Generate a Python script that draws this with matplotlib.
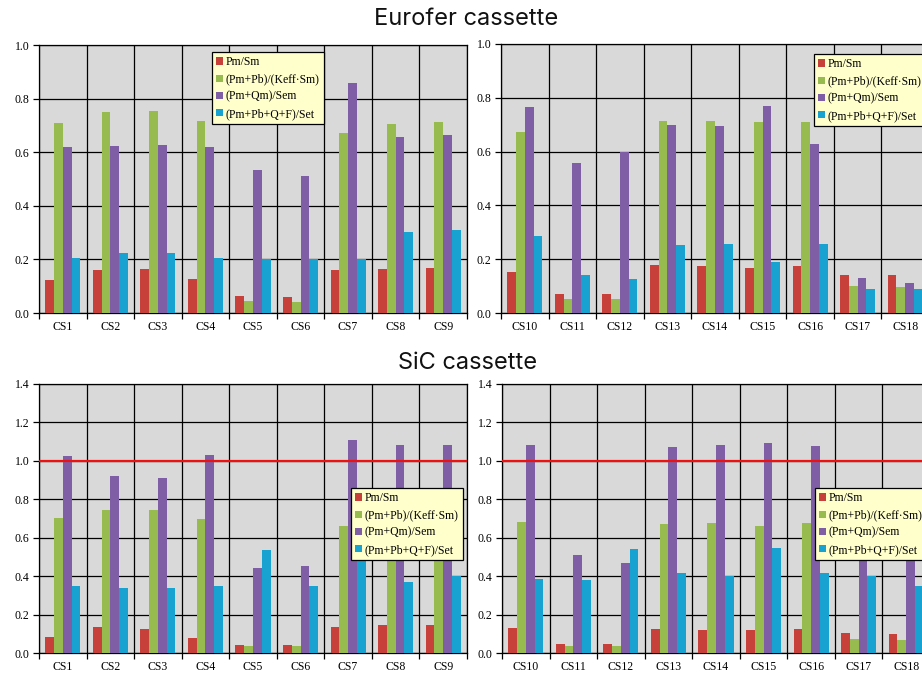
import matplotlib
matplotlib.use("Agg")
import matplotlib.pyplot as plt
import numpy as np

# ---------------- data ----------------
series_names = ["Pm/Sm", "(Pm+Pb)/(Keff·Sm)", "(Pm+Qm)/Sem", "(Pm+Pb+Q+F)/Set"]
cats_left = ["CS1", "CS2", "CS3", "CS4", "CS5", "CS6", "CS7", "CS8", "CS9"]
cats_right = ["CS10", "CS11", "CS12", "CS13", "CS14", "CS15", "CS16", "CS17", "CS18"]

# Eurofer cassette, CS1-CS9
eu_pm_sm_l = [0.125, 0.160, 0.163, 0.128, 0.062, 0.060, 0.162, 0.165, 0.168]
eu_pmpb_l = [0.710, 0.750, 0.752, 0.715, 0.045, 0.042, 0.670, 0.707, 0.713]
eu_pmqm_l = [0.620, 0.625, 0.628, 0.620, 0.535, 0.513, 0.860, 0.655, 0.663]
eu_set_l = [0.205, 0.223, 0.225, 0.207, 0.202, 0.203, 0.200, 0.302, 0.308]

# Eurofer cassette, CS10-CS18
eu_pm_sm_r = [0.152, 0.072, 0.070, 0.180, 0.175, 0.168, 0.173, 0.143, 0.140]
eu_pmpb_r = [0.672, 0.053, 0.053, 0.713, 0.714, 0.710, 0.710, 0.100, 0.095]
eu_pmqm_r = [0.765, 0.557, 0.600, 0.698, 0.695, 0.770, 0.628, 0.130, 0.112]
eu_set_r = [0.287, 0.143, 0.125, 0.253, 0.255, 0.190, 0.255, 0.090, 0.088]

# SiC cassette, CS1-CS9
sic_pm_sm_l = [0.085, 0.133, 0.127, 0.080, 0.043, 0.043, 0.133, 0.145, 0.147]
sic_pmpb_l = [0.703, 0.745, 0.742, 0.700, 0.035, 0.035, 0.663, 0.700, 0.705]
sic_pmqm_l = [1.025, 0.920, 0.910, 1.033, 0.440, 0.455, 1.107, 1.085, 1.085]
sic_set_l = [0.350, 0.340, 0.340, 0.350, 0.535, 0.350, 0.520, 0.372, 0.400]

# SiC cassette, CS10-CS18
sic_pm_sm_r = [0.130, 0.046, 0.046, 0.125, 0.120, 0.118, 0.123, 0.103, 0.100]
sic_pmpb_r = [0.683, 0.038, 0.036, 0.672, 0.675, 0.663, 0.677, 0.072, 0.068]
sic_pmqm_r = [1.082, 0.508, 0.468, 1.070, 1.082, 1.095, 1.075, 0.520, 0.500]
sic_set_r = [0.387, 0.378, 0.540, 0.415, 0.400, 0.545, 0.418, 0.403, 0.350]

titles = ["Eurofer cassette", "SiC cassette"]

# ---------------- style ----------------
colors = ["#c8403a", "#98bb50", "#7f5ea6", "#18a2d2"]
bg = "#d9d9d9"
serif = ["Liberation Serif", "DejaVu Serif"]

W, H = 922, 673
fig = plt.figure(figsize=(W / 100, H / 100), dpi=100)
fig.patch.set_facecolor("white")


def px_axes(x0, y_top, x1, y_bot):
    return fig.add_axes([x0 / W, 1 - y_bot / H, (x1 - x0) / W, (y_bot - y_top) / H])


def draw_panel(ax, cats, series, ymax, refline, legend_pos):
    n = len(cats)
    x = np.arange(n)
    bw = 0.185
    ax.set_facecolor(bg)
    for k, (vals, c, name) in enumerate(zip(series, colors, series_names)):
        ax.bar(x + (k - 1.5) * bw, vals, width=bw, color=c, label=name, zorder=3, linewidth=0)
    ax.set_xlim(-0.5, n - 0.5)
    ax.set_ylim(0, ymax)
    yt = np.round(np.arange(0, ymax + 1e-9, 0.2), 1)
    ax.set_yticks(yt)
    ax.set_yticklabels([f"{v:.1f}" for v in yt], fontfamily=serif, fontsize=8.5)
    # horizontal grid
    for v in yt:
        ax.axhline(v, color="black", lw=0.9, zorder=1)
    # vertical separators
    for b in np.arange(-0.5, n, 1.0):
        ax.axvline(b, color="black", lw=0.9, zorder=1)
    ax.set_xticks(np.arange(-0.5, n, 1.0))
    ax.set_xticklabels([])
    ax.set_xticks(x, minor=True)
    ax.set_xticklabels(cats, minor=True, fontfamily=serif, fontsize=8.5)
    ax.tick_params(axis="x", which="major", direction="out", length=4, width=0.9)
    ax.tick_params(axis="x", which="minor", length=0, pad=6)
    ax.tick_params(axis="y", direction="out", length=4, width=0.9, pad=3)
    for s in ax.spines.values():
        s.set_color("black")
        s.set_linewidth(0.9)
    if refline is not None:
        ax.axhline(refline, color="#ee1111", lw=1.6, zorder=4)
    leg = ax.legend(loc="upper left", bbox_to_anchor=(legend_pos[0] / W, 1 - legend_pos[1] / H),
                    bbox_transform=fig.transFigure, prop={"family": serif, "size": 8.5},
                    fancybox=False, framealpha=1, edgecolor="black", facecolor="#ffffcc",
                    handlelength=0.55, handleheight=0.55, handletextpad=0.25,
                    labelspacing=0.45, borderpad=0.35, borderaxespad=0)
    leg.get_frame().set_linewidth(0.9)
    leg.set_zorder(10)


ax1 = px_axes(39, 45, 467, 313)
draw_panel(ax1, cats_left, [eu_pm_sm_l, eu_pmpb_l, eu_pmqm_l, eu_set_l], 1.0, None, (212, 52))
ax2 = px_axes(501, 44, 929, 313)
draw_panel(ax2, cats_right, [eu_pm_sm_r, eu_pmpb_r, eu_pmqm_r, eu_set_r], 1.0, None, (814, 54))
ax3 = px_axes(39, 384, 467, 653)
draw_panel(ax3, cats_left, [sic_pm_sm_l, sic_pmpb_l, sic_pmqm_l, sic_set_l], 1.4, 1.0, (351, 488))
ax4 = px_axes(502, 384, 930, 653)
draw_panel(ax4, cats_right, [sic_pm_sm_r, sic_pmpb_r, sic_pmqm_r, sic_set_r], 1.4, 1.0, (815, 488))

fig.text(466 / W, 1 - 19 / H, titles[0], ha="center", va="center",
         fontfamily=["Inter", "DejaVu Sans"], fontsize=17, color="#111111")
fig.text(468 / W, 1 - 363 / H, titles[1], ha="center", va="center",
         fontfamily=["Inter", "DejaVu Sans"], fontsize=17, color="#111111")

fig.savefig("out.png", dpi=100, facecolor="white")
